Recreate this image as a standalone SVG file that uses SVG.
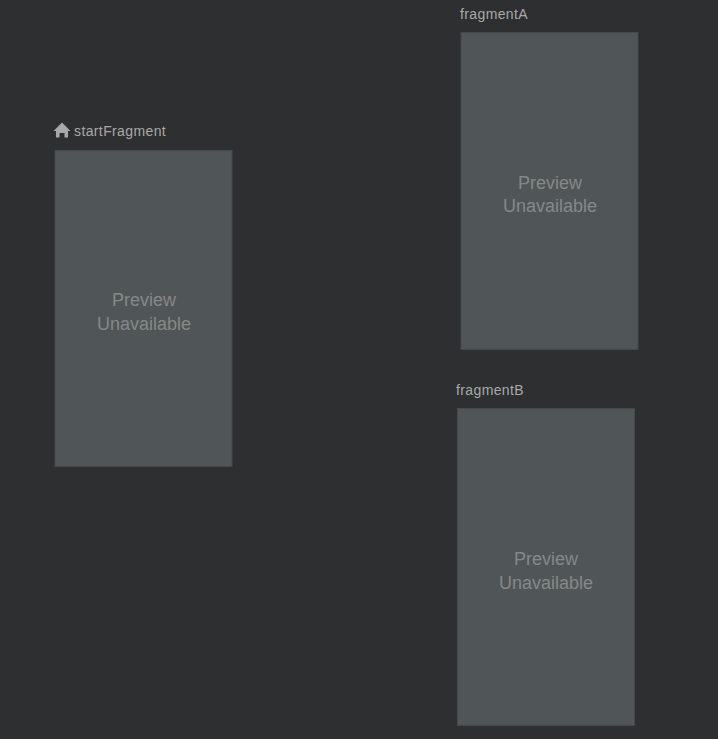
<svg xmlns="http://www.w3.org/2000/svg" width="718" height="739" viewBox="0 0 718 739">
<style>
.card{fill:#505657;stroke:#45494b;stroke-width:1}
.lbl{font:14px "Liberation Sans",Arial,sans-serif;fill:#a9a9a9;letter-spacing:.38px}
.pv{font:18px "Liberation Sans",Arial,sans-serif;fill:#868888;text-anchor:middle}
</style>
<rect width="718" height="739" fill="#2d2f31"/>
<g id="connectors"></g>
<g id="startFragment">
<path d="M62 122.500L70.500 131H68V137.500H64.500V133H59.500V137.500H56V131H53.500Z" fill="#a9a9a9"/>
<text class="lbl" x="74" y="136">startFragment</text>
<rect class="card" x="55" y="150.500" width="177" height="316"/>
<text class="pv" x="144" y="306">Preview</text>
<text class="pv" x="144" y="330">Unavailable</text>
</g>
<g id="fragmentA">
<text class="lbl" x="460" y="19">fragmentA</text>
<rect class="card" x="461" y="32.500" width="177" height="317"/>
<text class="pv" x="550" y="189">Preview</text>
<text class="pv" x="550" y="212">Unavailable</text>
</g>
<g id="fragmentB">
<text class="lbl" x="456" y="395">fragmentB</text>
<rect class="card" x="457.500" y="408.500" width="177" height="317"/>
<text class="pv" x="546" y="565">Preview</text>
<text class="pv" x="546" y="589">Unavailable</text>
</g>
</svg>
